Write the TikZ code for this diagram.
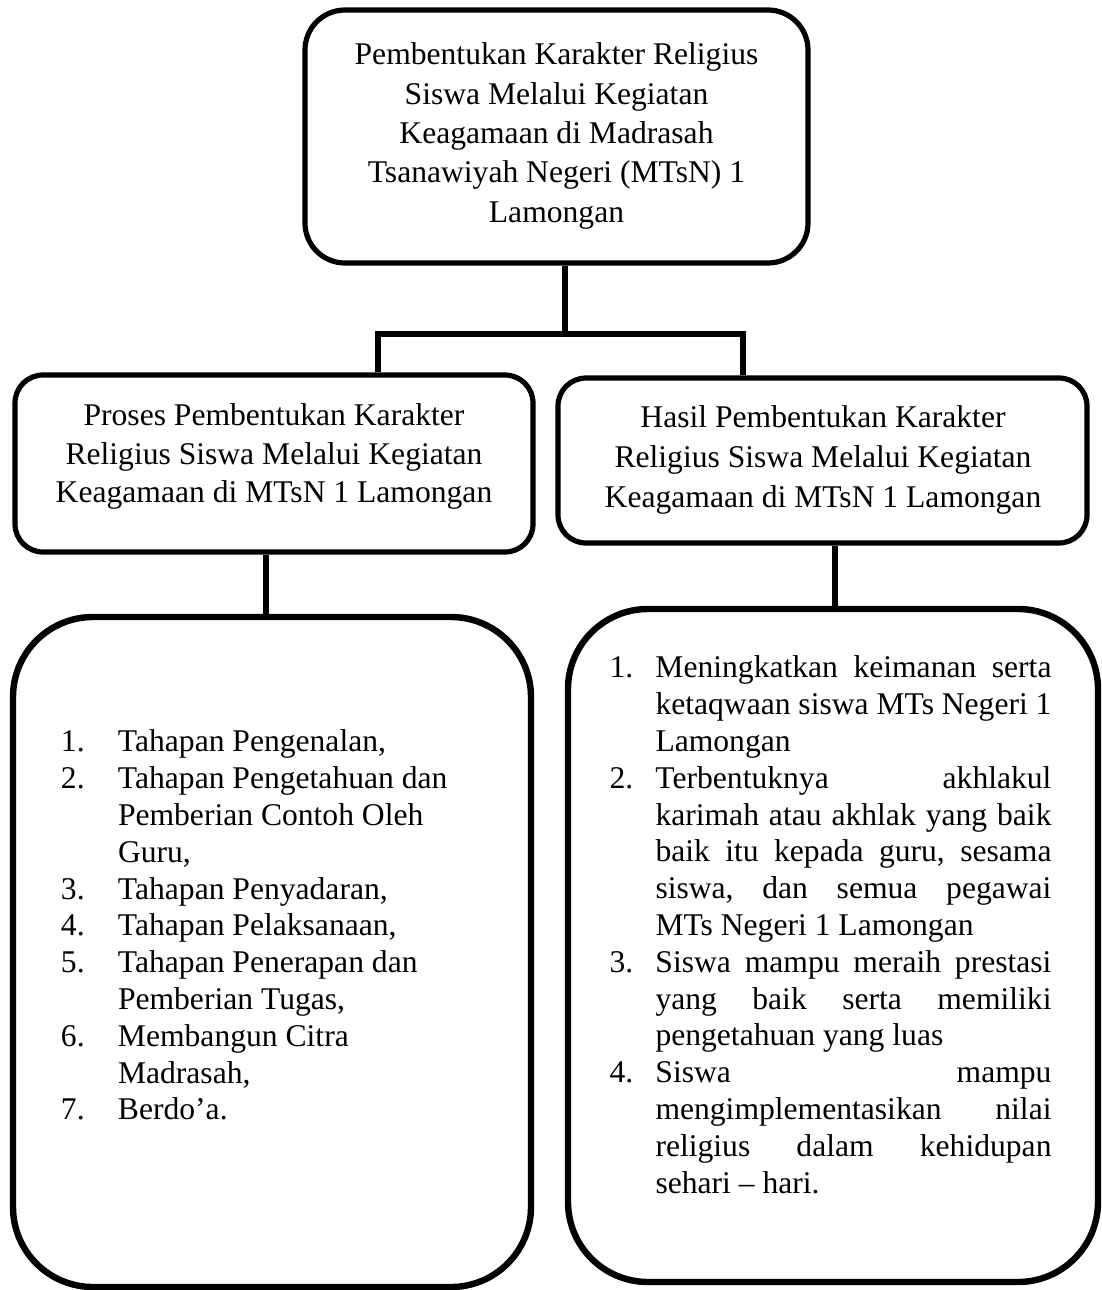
\documentclass[tikz,border=0pt]{standalone}
\usepackage{fontspec}
\setmainfont{Liberation Serif}
\frenchspacing
\begin{document}
\begin{tikzpicture}[x=0.5pt,y=-0.5pt,
  box/.style={draw, line width=2.6pt, rounded corners=#1, inner sep=0pt, rectangle},
  bigbox/.style={draw, line width=3.2pt, rounded corners=40pt, inner sep=0pt, rectangle},
  conn/.style={draw, line width=2.6pt, line join=miter},
  txt/.style={inner sep=0pt, outer sep=0pt}]
\useasboundingbox (0,0) rectangle (1102,1290);

% boxes
\node[box=20pt, minimum width=251.5pt, minimum height=126.5pt] (top) at (556.5,136.5) {};
\node[box=14pt, minimum width=259pt, minimum height=88.5pt] (pm) at (274,463.5) {};
\node[box=14pt, minimum width=264.5pt, minimum height=82.5pt] (hm) at (822.5,460.5) {};
\node[bigbox, minimum width=259pt, minimum height=335pt] (pl) at (272,952) {};
\node[bigbox, minimum width=265pt, minimum height=336.5pt] (hl) at (833,945.5) {};

% texts
\node[txt, align=center, font=\fontsize{15.8}{19.65}\selectfont] (topt) at (556.5,136)
  {Pembentukan Karakter Religius\\Siswa Melalui Kegiatan\\Keagamaan di Madrasah\\Tsanawiyah Negeri (MTsN) 1\\Lamongan};
\node[txt, align=center, font=\fontsize{15.8}{19.25}\selectfont] (pmt) at (274,456.5)
  {Proses Pembentukan Karakter\\Religius Siswa Melalui Kegiatan\\Keagamaan di MTsN 1 Lamongan};
\node[txt, align=center, font=\fontsize{15.8}{20}\selectfont] (hmt) at (823,459.5)
  {Hasil Pembentukan Karakter\\Religius Siswa Melalui Kegiatan\\Keagamaan di MTsN 1 Lamongan};

\node[txt, align=left, anchor=north west, font=\fontsize{15.8}{18.4}\selectfont] (plt) at (61,730)
  {\makebox[28.5pt][l]{1.}Tahapan Pengenalan,\\
   \makebox[28.5pt][l]{2.}Tahapan Pengetahuan dan\\
   \hspace*{28.5pt}Pemberian Contoh Oleh\\
   \hspace*{28.5pt}Guru,\\
   \makebox[28.5pt][l]{3.}Tahapan Penyadaran,\\
   \makebox[28.5pt][l]{4.}Tahapan Pelaksanaan,\\
   \makebox[28.5pt][l]{5.}Tahapan Penerapan dan\\
   \hspace*{28.5pt}Pemberian Tugas,\\
   \makebox[28.5pt][l]{6.}Membangun Citra\\
   \hspace*{28.5pt}Madrasah,\\
   \makebox[28.5pt][l]{7.}Berdo’a.};

\node[txt, align=left, anchor=north west, font=\fontsize{15.8}{18.4}\selectfont] (hlt) at (609.5,656)
  {\makebox[23pt][l]{1.}\makebox[198pt][s]{Meningkatkan keimanan serta}\\
   \hspace*{23pt}\makebox[198pt][s]{ketaqwaan siswa MTs Negeri 1}\\
   \hspace*{23pt}Lamongan\\
   \makebox[23pt][l]{2.}\makebox[198pt][s]{Terbentuknya akhlakul}\\
   \hspace*{23pt}\makebox[198pt][s]{karimah atau akhlak yang baik}\\
   \hspace*{23pt}\makebox[198pt][s]{baik itu kepada guru, sesama}\\
   \hspace*{23pt}\makebox[198pt][s]{siswa, dan semua pegawai}\\
   \hspace*{23pt}MTs Negeri 1 Lamongan\\
   \makebox[23pt][l]{3.}\makebox[198pt][s]{Siswa mampu meraih prestasi}\\
   \hspace*{23pt}\makebox[198pt][s]{yang baik serta memiliki}\\
   \hspace*{23pt}pengetahuan yang luas\\
   \makebox[23pt][l]{4.}\makebox[198pt][s]{Siswa mampu}\\
   \hspace*{23pt}\makebox[198pt][s]{mengimplementasikan nilai}\\
   \hspace*{23pt}\makebox[198pt][s]{religius dalam kehidupan}\\
   \hspace*{23pt}sehari – hari.};

% connectors
\coordinate (j) at (565,334);
\coordinate (jl) at (378,334);
\coordinate (jr) at (743,334);
\draw[conn] (top.south -| j) -- (j);
\draw[conn] (jl |- pm.north) -- (jl) -- (jr) -- (jr |- hm.north);
\coordinate (ql) at (266,585);
\coordinate (qr) at (835,575);
\draw[conn] (pm.south -| ql) -- (pl.north -| ql);
\draw[conn] (hm.south -| qr) -- (hl.north -| qr);
\end{tikzpicture}
\end{document}
